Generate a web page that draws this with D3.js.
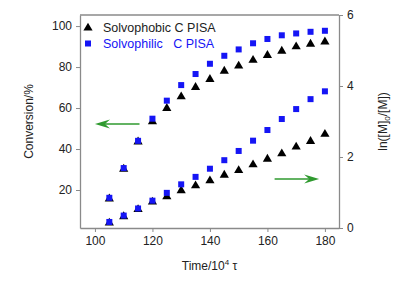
<!DOCTYPE html>
<html>
<head>
<meta charset="utf-8">
<script src="https://cdn.jsdelivr.net/npm/d3@7"></script>
<style>
  body { margin: 0; background: #fff; }
  svg text { font-family: "Liberation Sans", Arial, sans-serif; }
</style>
</head>
<body>
<div id="chart"></div>
<script>
// time in units of 10^4 tau
const times = [105, 110, 115, 120, 125, 130, 135, 140, 145, 150, 155, 160, 165, 170, 175, 180];
// conversion (%) - left axis
const phobicConv = [16.2, 30.7, 44.0, 53.8, 60.3, 66.0, 70.6, 74.5, 78.5, 81.0, 83.8, 86.2, 88.3, 90.4, 91.7, 92.8];
const philicConv = [16.2, 30.7, 44.0, 54.8, 63.6, 71.2, 76.6, 81.6, 85.5, 88.6, 91.6, 93.7, 95.5, 96.4, 97.2, 97.7];
// ln([M]0/[M]) - right axis
const phobicLn = [0.17, 0.35, 0.55, 0.76, 0.91, 1.08, 1.22, 1.36, 1.52, 1.65, 1.81, 1.97, 2.12, 2.31, 2.47, 2.67];
const philicLn = [0.17, 0.35, 0.55, 0.77, 0.99, 1.23, 1.44, 1.67, 1.91, 2.17, 2.46, 2.76, 3.07, 3.35, 3.63, 3.85];

const xTicks = [100, 120, 140, 160, 180];
const leftTicks = [20, 40, 60, 80, 100];
const rightTicks = [0, 2, 4, 6];

const seriesNames = ["Solvophobic C PISA", "Solvophilic   C PISA"];

// arrows: [from time, to time, value] on each axis
const leftArrow = { t0: 115.5, t1: 100, v: 52.2 };
const rightArrow = { t0: 162.5, t1: 178, v: 1.38 };

const W = 405, H = 283;
const margin = { top: 15, right: 66, bottom: 55, left: 80 };
const width = W - margin.left - margin.right;
const height = H - margin.top - margin.bottom;

const axisColor = "#8a8a8a";
const textColor = "#222";
const blue = "#1515f5";
const green = "#2f9a2f";

const svg = d3.select("#chart").append("svg")
    .attr("width", W)
    .attr("height", H);

const g = svg.append("g")
    .attr("transform", `translate(${margin.left},${margin.top})`);

const x = d3.scaleLinear().domain([94.8, 184.9]).range([0, width]);
const yL = d3.scaleLinear().domain([1.46, 105.4]).range([height, 0]);
const yR = d3.scaleLinear().domain([0, 6]).range([height, 0]);

function styleAxis(sel) {
    sel.select(".domain").attr("stroke", axisColor).attr("stroke-width", 1.3);
    sel.selectAll(".tick line").attr("stroke", axisColor).attr("stroke-width", 1);
    sel.selectAll(".tick text").attr("fill", textColor).attr("font-size", 12);
}

// top frame line
g.append("line")
    .attr("x1", 0).attr("x2", width)
    .attr("y1", 0).attr("y2", 0)
    .attr("stroke", axisColor).attr("stroke-width", 1.3);

g.append("g")
    .attr("transform", `translate(0,${height})`)
    .call(d3.axisBottom(x).tickValues(xTicks).tickSize(4).tickSizeOuter(0).tickPadding(4))
    .call(styleAxis);

g.append("g")
    .call(d3.axisLeft(yL).tickValues(leftTicks).tickSize(4).tickSizeOuter(0).tickPadding(4))
    .call(styleAxis);

g.append("g")
    .attr("transform", `translate(${width},0)`)
    .call(d3.axisRight(yR).tickValues(rightTicks).tickFormat(d3.format("d"))
        .tickSize(4).tickSizeOuter(0).tickPadding(4))
    .call(styleAxis);

// axis titles
const xTitle = g.append("text")
    .attr("x", width / 2)
    .attr("y", height + 42)
    .attr("text-anchor", "middle")
    .attr("font-size", 12)
    .attr("fill", textColor);
xTitle.append("tspan").text("Time/10");
xTitle.append("tspan").attr("font-size", 8).attr("dy", -5).text("4");
xTitle.append("tspan").attr("dy", 5).text(" \u03c4");

g.append("text")
    .attr("transform", `translate(${-47},${height / 2}) rotate(-90)`)
    .attr("text-anchor", "middle")
    .attr("font-size", 12)
    .attr("fill", textColor)
    .text("Conversion/%");

const rTitle = g.append("text")
    .attr("transform", `translate(${width + 48},${height / 2}) rotate(-90)`)
    .attr("text-anchor", "middle")
    .attr("font-size", 12)
    .attr("fill", textColor);
rTitle.append("tspan").text("ln([M]");
rTitle.append("tspan").attr("font-size", 8).attr("dy", 3).text("0");
rTitle.append("tspan").attr("dy", -3).text("/[M])");

// markers
const triPath = "M0,-4.3L4.6,3.6L-4.6,3.6Z";
const sqSize = 6;

function drawTriangles(vals, yScale) {
    g.append("g").selectAll("path")
        .data(vals)
        .join("path")
        .attr("d", triPath)
        .attr("fill", "#000")
        .attr("transform", (d, i) => `translate(${x(times[i])},${yScale(d)})`);
}

function drawSquares(vals, yScale) {
    g.append("g").selectAll("rect")
        .data(vals)
        .join("rect")
        .attr("x", (d, i) => x(times[i]) - sqSize / 2)
        .attr("y", d => yScale(d) - sqSize / 2)
        .attr("width", sqSize)
        .attr("height", sqSize)
        .attr("fill", blue);
}

drawTriangles(phobicConv, yL);
drawTriangles(phobicLn, yR);
drawSquares(philicConv, yL);
drawSquares(philicLn, yR);

// green arrows
function drawArrow(a, yScale) {
    const x0 = x(a.t0), x1 = x(a.t1), yy = yScale(a.v);
    const dir = x1 > x0 ? 1 : -1;
    g.append("line")
        .attr("x1", x0).attr("x2", x1 - dir * 8)
        .attr("y1", yy).attr("y2", yy)
        .attr("stroke", green).attr("stroke-width", 1.3);
    g.append("path")
        .attr("d", `M${x1},${yy}L${x1 - dir * 15},${yy - 4.5}L${x1 - dir * 10},${yy}L${x1 - dir * 15},${yy + 4.5}Z`)
        .attr("fill", green);
}
drawArrow(leftArrow, yL);
drawArrow(rightArrow, yR);

// legend
const legend = g.append("g").attr("transform", "translate(8,12)");
const legendRows = legend.selectAll("g")
    .data(seriesNames)
    .join("g")
    .attr("transform", (d, i) => `translate(0,${i * 16.5})`);
legendRows.each(function (d, i) {
    const row = d3.select(this);
    if (i === 0) {
        row.append("path").attr("d", triPath).attr("fill", "#000");
    } else {
        row.append("rect")
            .attr("x", -sqSize / 2).attr("y", -sqSize / 2)
            .attr("width", sqSize).attr("height", sqSize)
            .attr("fill", blue);
    }
    row.append("text")
        .attr("x", 15)
        .attr("y", 4.5)
        .attr("font-size", 12.5)
        .style("white-space", "pre")
        .attr("fill", i === 0 ? textColor : blue)
        .text(d);
});
</script>
</body>
</html>
